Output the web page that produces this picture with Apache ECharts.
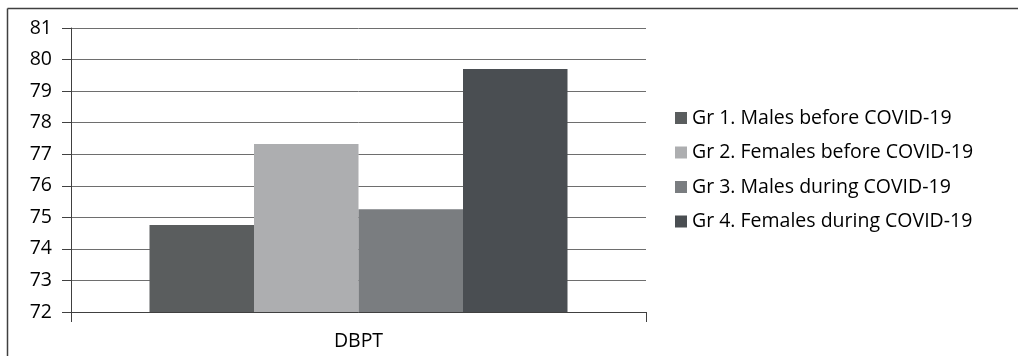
<!DOCTYPE html>
<html>
<head>
<meta charset="utf-8">
<script src="https://cdn.jsdelivr.net/npm/echarts@6/dist/echarts.min.js"></script>
<style>
  html, body { margin: 0; padding: 0; background: #fff; }
  #chart { width: 1018px; height: 356px; }
</style>
</head>
<body>
<div id="chart"></div>
<script>
// DBPT by group, before and during COVID-19
const categories = ['DBPT'];
const seriesNames = [
  'Gr 1. Males before COVID-19',
  'Gr 2. Females before COVID-19',
  'Gr 3. Males during COVID-19',
  'Gr 4. Females during COVID-19'
];
const seriesValues = [
  [74.76],
  [77.32],
  [75.26],
  [79.70]
];
const seriesColors = ['#5a5d5e', '#adaeb0', '#7a7d80', '#4a4e52'];
const yMin = 72, yMax = 81, yStep = 1;

const FONT = 'Open Sans';
const FS = 19.5;
const chart = echarts.init(document.getElementById('chart'), null, { renderer: 'canvas' });

chart.setOption({
  animation: false,
  backgroundColor: '#fff',
  textStyle: { fontFamily: FONT, color: '#000' },
  graphic: [
    { type: 'line', shape: { x1: 7.5, y1: 8.5, x2: 1018, y2: 8.5 }, style: { stroke: '#404040', lineWidth: 1.5 } },
    { type: 'line', shape: { x1: 7.5, y1: 8.5, x2: 7.5, y2: 356 }, style: { stroke: '#404040', lineWidth: 1.5 } }
  ],
  grid: { left: 71, right: 372, top: 28, bottom: 44, containLabel: false },
  legend: {
    orient: 'vertical',
    left: 670,
    top: 103,
    itemWidth: 12,
    itemHeight: 12,
    itemGap: 14.5,
    icon: 'rect',
    textStyle: { fontFamily: FONT, fontSize: FS, color: '#000', lineHeight: 18, padding: [0, 0, 0, 0] },
    data: seriesNames
  },
  xAxis: {
    type: 'category',
    data: categories,
    boundaryGap: true,
    axisLine: { lineStyle: { color: '#404040', width: 1 } },
    axisTick: { show: true, length: 10, lineStyle: { color: '#404040' } },
    axisLabel: { fontFamily: FONT, fontSize: FS, color: '#000', margin: 19 },
    splitLine: { show: false }
  },
  yAxis: {
    type: 'value',
    min: yMin,
    max: yMax,
    interval: yStep,
    axisLine: { show: true, lineStyle: { color: '#404040', width: 1 } },
    axisTick: { show: true, length: 9, lineStyle: { color: '#404040' } },
    axisLabel: { fontFamily: FONT, fontSize: FS, color: '#000', margin: 19 },
    splitLine: { show: true, lineStyle: { color: '#6e6e6e', width: 1 } }
  },
  series: seriesNames.map((name, i) => ({
    name,
    type: 'bar',
    data: seriesValues[i],
    barWidth: 104.5,
    barGap: '0%',
    itemStyle: { color: seriesColors[i] }
  }))
});
</script>
</body>
</html>
